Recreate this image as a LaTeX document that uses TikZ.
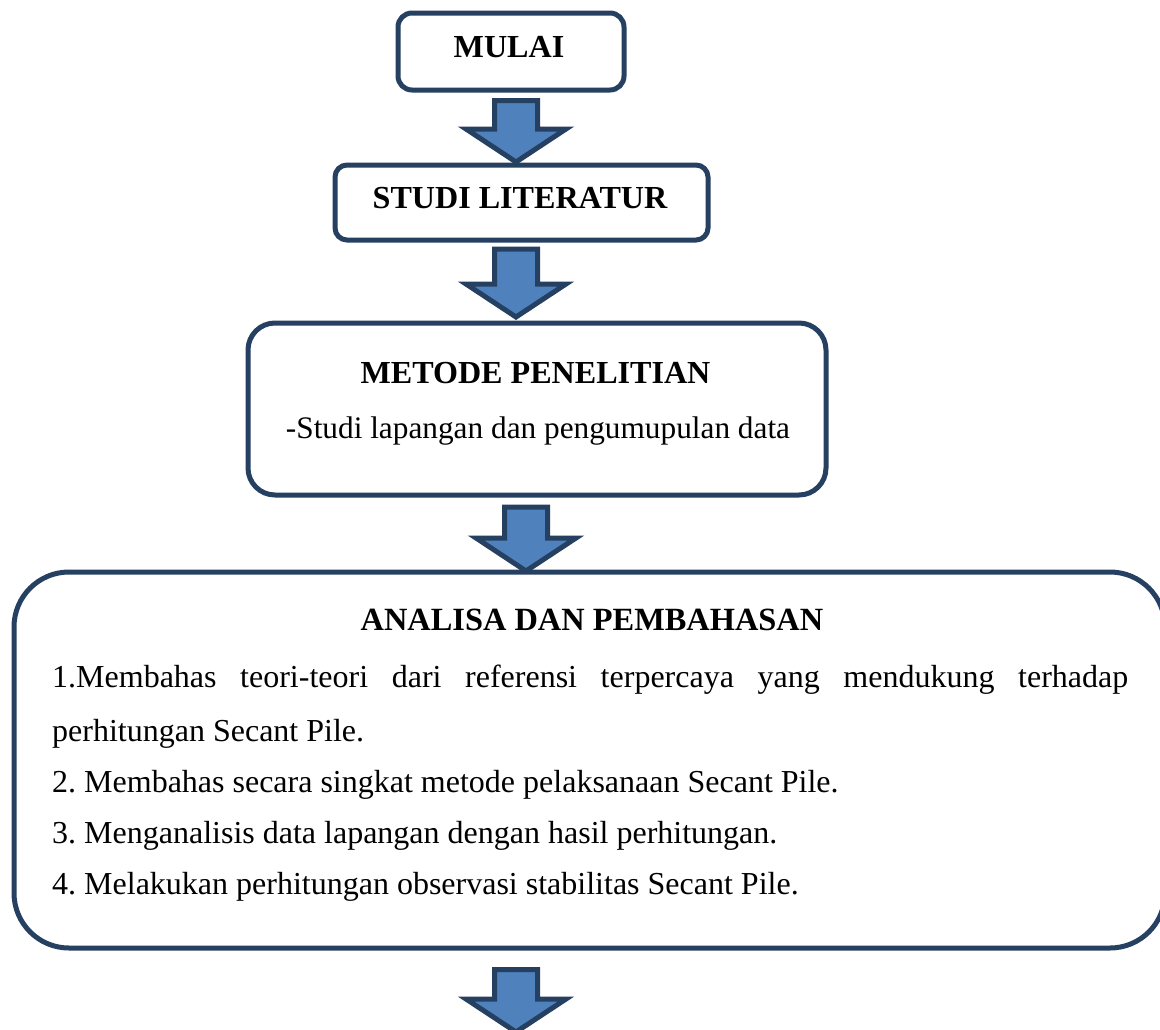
\documentclass[tikz,border=0pt]{standalone}
\usepackage{fontspec}
\setmainfont{Liberation Serif}
\definecolor{boxline}{RGB}{38,64,98}
\definecolor{arrowfill}{RGB}{79,129,189}
\tikzset{
  flowbox/.style={draw=boxline, line width=5pt, fill=white, inner sep=0pt},
  boxtext/.style={inner sep=0pt, anchor=base, font=\fontsize{32.1}{38}\selectfont\bfseries},
  bodytext/.style={inner sep=0pt, anchor=base west, font=\fontsize{32}{38}\selectfont\frenchspacing},
  subtext/.style={inner sep=0pt, anchor=base, font=\fontsize{31.3}{38}\selectfont},
  pics/barrow/.style={code={
    \draw[draw=boxline, fill=arrowfill, line width=5pt, line join=miter]
      (0,0) -- (50,-33) -- (21.5,-33) -- (21.5,-#1) -- (-21.5,-#1) -- (-21.5,-33) -- (-50,-33) -- cycle;
  }}
}
\begin{document}
\begin{tikzpicture}[x=1pt,y=-1pt]
\path[use as bounding box] (0,0) rectangle (1160,1029);
\clip (0,0) rectangle (1160,1029);
\fill[white] (0,0) rectangle (1160,1029);

% boxes
\node[flowbox, rounded corners=14pt, minimum width=226pt, minimum height=77pt] (mulai) at (511,51.5) {};
\node[flowbox, rounded corners=12pt, minimum width=373pt, minimum height=75pt] (studi) at (521.5,202.5) {};
\node[flowbox, rounded corners=27pt, minimum width=578pt, minimum height=172pt] (metode) at (537,409) {};
\node[flowbox, rounded corners=55pt, minimum width=1151pt, minimum height=376pt] (analisa) at (589.5,760) {};

% texts
\node[boxtext] (mulaiT) at (509,57) {MULAI};
\node[boxtext] (studiT) at (520,208) {STUDI LITERATUR};
\node[boxtext] (metodeT) at (535.5,383) {METODE PENELITIAN};
\node[subtext] (metodeS) at (538,438) {-Studi lapangan dan pengumupulan data};
\node[boxtext, font=\fontsize{32.4}{38}\selectfont\bfseries] (analisaT) at (592,630) {ANALISA DAN PEMBAHASAN};
\node[bodytext] (l1) at (52,687) {\makebox[1076pt][s]{1.Membahas teori-teori dari referensi terpercaya yang mendukung terhadap}};
\node[bodytext] (l2) at (52,741) {perhitungan Secant Pile.};
\node[bodytext] (l3) at (52,792) {2. Membahas secara singkat metode pelaksanaan Secant Pile.};
\node[bodytext] (l4) at (52,843) {3. Menganalisis data lapangan dengan hasil perhitungan.};
\node[bodytext] (l5) at (52,894) {4. Melakukan perhitungan observasi stabilitas Secant Pile.};

% block arrows (tip coordinates on the next box)
\coordinate (t1) at (516,162);
\coordinate (t2) at (516,317);
\coordinate (t3) at (526,571);
\coordinate (t4) at (516,1032);
\pic at (t1) {barrow=61.5};
\pic at (t2) {barrow=68};
\pic at (t3) {barrow=64};
\pic at (t4) {barrow=62.5};
\end{tikzpicture}
\end{document}
